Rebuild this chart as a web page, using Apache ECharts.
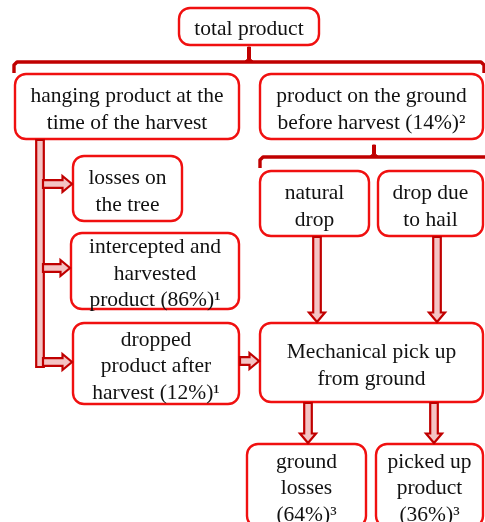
<!DOCTYPE html>
<html>
<head>
<meta charset="utf-8">
<style>
html,body{margin:0;padding:0;background:#fff;}
#c{width:485px;height:522px;}
</style>
<script src="https://cdn.jsdelivr.net/npm/echarts@6/dist/echarts.min.js"></script>
</head>
<body>
<div id="c"></div>
<script>
// Node labels of the flow diagram
const boxTexts = [
  'total product',
  'hanging product at the\ntime of the harvest',
  'product on the ground\nbefore harvest (14%)²',
  'losses on\nthe tree',
  'intercepted and\nharvested\nproduct (86%)¹',
  'dropped\nproduct after\nharvest (12%)¹',
  'natural\ndrop',
  'drop due\nto hail',
  'Mechanical pick up\nfrom ground',
  'ground\nlosses\n(64%)³',
  'picked up\nproduct\n(36%)³'
];
// Node layout in diagram units: [x0, y0, x1, y1]
const boxLayout = [
  [178, 7, 320, 46],
  [14, 73, 240, 140],
  [259, 73, 484, 140],
  [72, 155, 183, 222],
  [70, 232, 240, 310],
  [72, 322, 240, 405],
  [259, 170, 370, 237],
  [377, 170, 484, 237],
  [259, 322, 484, 403],
  [246, 443, 367, 528],
  [375, 443, 484, 528]
];
// Arrow layout: [xFrom, yFrom, xTo, yTo, hasHead]
const arrowLayout = [
  [40, 140, 40, 367, 0],
  [43, 184, 72, 184, 1],
  [43, 268, 70, 268, 1],
  [43, 362, 72, 362, 1],
  [240, 361, 259, 361, 1],
  [317, 237, 317, 322, 1],
  [437, 237, 437, 322, 1],
  [308, 403, 308, 443, 1],
  [434, 403, 434, 443, 1]
];
// Bracket layout: [xLeft, xRight, yLine, yTickEnd, xNotch, yNotchTop, hasRightTick]
const bracketLayout = [
  [14, 484, 62, 73, 249, 47, 1],
  [260, 490, 157, 168, 374, 145, 0]
];

const chart = echarts.init(document.getElementById('c'), null, {renderer: 'canvas'});

function renderBox(params, api) {
  const i = api.value(4);
  const p0 = api.coord([api.value(0), api.value(1)]);
  const p1 = api.coord([api.value(2), api.value(3)]);
  const lines = boxTexts[i].split('\n').length;
  return {
    type: 'group',
    children: [
      {
        type: 'rect',
        shape: {x: p0[0] + 1, y: p0[1] + 1, width: p1[0] - p0[0] - 2, height: p1[1] - p0[1] - 2, r: 11},
        style: {fill: '#ffffff', stroke: '#f01010', lineWidth: 2.4}
      },
      {
        type: 'text',
        style: {
          text: boxTexts[i],
          x: (p0[0] + p1[0]) / 2,
          y: (p0[1] + p1[1]) / 2 + 3,
          align: 'center',
          verticalAlign: 'middle',
          font: '21.5px "Liberation Serif"',
          lineHeight: lines === 3 ? 26.5 : 27,
          fill: '#111111'
        }
      }
    ]
  };
}

function renderArrow(params, api) {
  const a = api.coord([api.value(0), api.value(1)]);
  const b = api.coord([api.value(2), api.value(3)]);
  const head = api.value(4);
  const dx = b[0] - a[0], dy = b[1] - a[1];
  const len = Math.sqrt(dx * dx + dy * dy);
  const ux = dx / len, uy = dy / len;
  const nx = -uy, ny = ux;
  const w = 3.8, hw = 8, hl = 9.5;
  let pts;
  if (head) {
    const bx = b[0] - ux * hl, by = b[1] - uy * hl;
    pts = [
      [a[0] + nx * w, a[1] + ny * w],
      [bx + nx * w, by + ny * w],
      [bx + nx * hw, by + ny * hw],
      [b[0], b[1]],
      [bx - nx * hw, by - ny * hw],
      [bx - nx * w, by - ny * w],
      [a[0] - nx * w, a[1] - ny * w]
    ];
  } else {
    pts = [
      [a[0] + nx * w, a[1] + ny * w],
      [b[0] + nx * w, b[1] + ny * w],
      [b[0] - nx * w, b[1] - ny * w],
      [a[0] - nx * w, a[1] - ny * w]
    ];
  }
  return {
    type: 'polygon',
    shape: {points: pts},
    style: {fill: '#f4c4c4', stroke: '#c00000', lineWidth: 2.2, lineJoin: 'miter'}
  };
}

function renderBracket(params, api) {
  const L = api.coord([api.value(0), api.value(2)]);
  const R = api.coord([api.value(1), api.value(2)]);
  const T = api.coord([api.value(0), api.value(3)]);
  const N = api.coord([api.value(4), api.value(5)]);
  const rightTick = api.value(6);
  const y = L[1], yt = T[1];
  const pts = [[L[0], yt], [L[0], y + 3], [L[0] + 3, y], [R[0] - 3, y]];
  if (rightTick) { pts.push([R[0], y + 3]); pts.push([R[0], yt]); }
  else { pts.push([R[0], y]); }
  return {
    type: 'group',
    children: [
      {
        type: 'polyline',
        shape: {points: pts},
        style: {fill: null, stroke: '#c00000', lineWidth: 3.4, lineJoin: 'round'}
      },
      {
        type: 'polygon',
        shape: {points: [[N[0] - 5, y], [N[0] - 1.5, y - 3], [N[0] - 1.5, N[1]], [N[0] + 1.5, N[1]], [N[0] + 1.5, y - 3], [N[0] + 5, y]]},
        style: {fill: '#c00000', stroke: '#c00000', lineWidth: 1}
      }
    ]
  };
}

chart.setOption({
  animation: false,
  backgroundColor: '#ffffff',
  grid: {left: 0, right: 0, top: 0, bottom: 0},
  xAxis: {type: 'value', min: 0, max: 485, show: false},
  yAxis: {type: 'value', min: 0, max: 522, inverse: true, show: false},
  series: [
    {
      type: 'custom',
      name: 'brackets',
      z: 1,
      renderItem: renderBracket,
      data: bracketLayout,
      clip: false
    },
    {
      type: 'custom',
      name: 'boxes',
      z: 2,
      renderItem: renderBox,
      data: boxLayout.map((r, i) => [r[0], r[1], r[2], r[3], i]),
      clip: false
    },
    {
      type: 'custom',
      name: 'arrows',
      z: 3,
      renderItem: renderArrow,
      data: arrowLayout,
      clip: false
    }
  ]
});
</script>
</body>
</html>
